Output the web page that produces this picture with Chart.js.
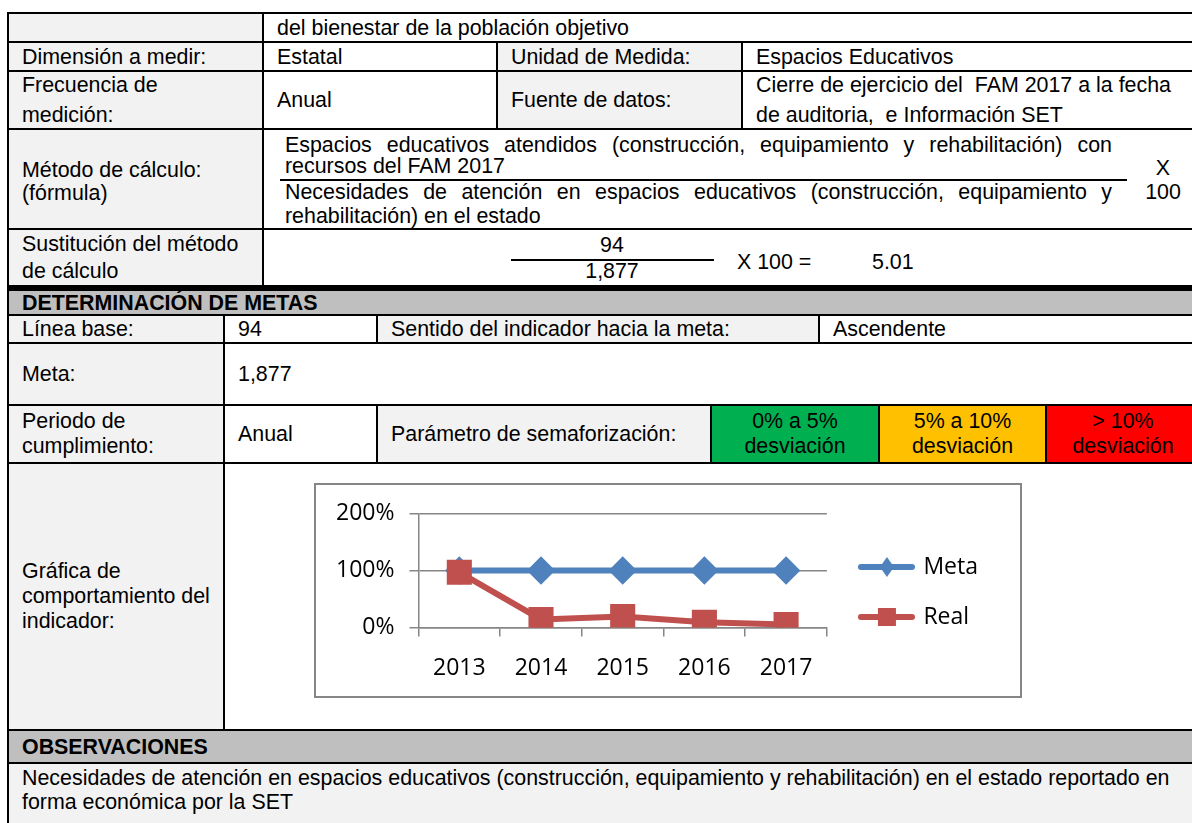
<!DOCTYPE html>
<html>
<head>
<meta charset="utf-8">
<script src="https://cdn.jsdelivr.net/npm/chart.js@4.4.1/dist/chart.umd.min.js"></script>
<style>
  html, body { margin: 0; padding: 0; background: #fff; }
  body { width: 1192px; height: 823px; overflow: hidden; position: relative;
         font-family: "Liberation Sans", Arial, sans-serif; font-size: 21.4px; color: #000; }
  .c { position: absolute; box-sizing: border-box; border: 2px solid #000;
       display: flex; align-items: center; padding-left: 13px; line-height: 30px; }
  .t { position: absolute; white-space: nowrap; line-height: 20px; }
  .ctr { justify-content: center; text-align: center; padding-left: 0; }
  .b { font-weight: bold; }
  .top { align-items: flex-start; padding-top: 2px; }
  .low { padding-top: 5px; }
  #box { position: absolute; left: 314px; top: 483px; width: 708px; height: 215px;
         box-sizing: border-box; border: 2px solid #868686; background: #fff; }
  #chart { position: absolute; left: 316px; top: 485px; }
</style>
</head>
<body>
<div id="table"></div>
<div id="box"></div>
<canvas id="chart" width="703" height="211"></canvas>
<script>
// chart data
const years = ['2013', '2014', '2015', '2016', '2017'];
const metaValues = [100, 100, 100, 100, 100];
const realValues = [97, 14, 19, 9, 5];
const seriesNames = ['Meta', 'Real'];
const seriesColors = ['#4f81bd', '#c0504d'];

const LABEL = '#f2f2f2', HEAD = '#bfbfbf', WHITE = '#fff';

// table cells: x1, y1, x2, y2, background, content, extra class, line height
const cells = [
  [8, 13, 263, 42, LABEL, ''],
  [263, 13, 1200, 42, WHITE, 'del bienestar de la población objetivo'],
  [8, 42, 263, 71, LABEL, 'Dimensión a medir:'],
  [263, 42, 497, 71, WHITE, 'Estatal'],
  [497, 42, 742, 71, LABEL, 'Unidad de Medida:'],
  [742, 42, 1200, 71, WHITE, 'Espacios Educativos'],
  [8, 71, 263, 129, LABEL, 'Frecuencia de<br>medición:'],
  [263, 71, 497, 129, WHITE, 'Anual'],
  [497, 71, 742, 129, LABEL, 'Fuente de datos:'],
  [742, 71, 1200, 129, WHITE, 'Cierre de ejercicio del&nbsp; FAM 2017 a la fecha<br>de auditoria,&nbsp; e Información SET'],
  [8, 129, 263, 229, LABEL, 'Método de cálculo:<br>(fórmula)', 'low', 23],
  [263, 129, 1200, 229, WHITE, ''],
  [8, 229, 263, 287, LABEL, 'Sustitución del método<br>de cálculo', '', 27],
  [263, 229, 1200, 287, WHITE, ''],
  [8, 290, 1200, 315, HEAD, 'DETERMINACIÓN DE METAS', 'b'],
  [8, 315, 224, 343, LABEL, 'Línea base:'],
  [224, 315, 377, 343, WHITE, '94'],
  [377, 315, 819, 343, LABEL, 'Sentido del indicador hacia la meta:'],
  [819, 315, 1200, 343, WHITE, 'Ascendente'],
  [8, 343, 224, 405, LABEL, 'Meta:'],
  [224, 343, 1200, 405, WHITE, '1,877'],
  [8, 405, 224, 463, LABEL, 'Periodo de<br>cumplimiento:', '', 25],
  [224, 405, 377, 463, WHITE, 'Anual'],
  [377, 405, 711, 463, LABEL, 'Parámetro de semaforización:'],
  [711, 405, 879, 463, '#00b050', '0% a 5%<br>desviación', 'ctr', 25],
  [879, 405, 1046, 463, '#ffc000', '5% a 10%<br>desviación', 'ctr', 25],
  [1046, 405, 1200, 463, '#ff0000', '&gt; 10%<br>desviación', 'ctr', 25],
  [8, 463, 224, 730, LABEL, 'Gráfica de<br>comportamiento del<br>indicador:', '', 25],
  [224, 463, 1200, 730, WHITE, ''],
  [8, 730, 1200, 763, HEAD, 'OBSERVACIONES', 'b'],
  [8, 763, 1200, 840, LABEL, 'Necesidades de atención en espacios educativos (construcción, equipamiento y rehabilitación) en el estado reportado en<br>forma económica por la SET', 'top', 24]
];

let html = '';
cells.forEach(([x1, y1, x2, y2, bg, txt, cls, lh]) => {
  html += `<div class="c ${cls || ''}" style="left:${x1 - 1}px;top:${y1 - 1}px;width:${x2 - x1 + 2}px;height:${y2 - y1 + 2}px;background:${bg};line-height:${lh || 30}px"><div>${txt}</div></div>`;
});
// thick separator
html += '<div style="position:absolute;left:7px;top:285px;width:1200px;height:5px;background:#000"></div>';
// formula
html += '<div class="t" style="left:285px;top:135px;width:827px;text-align:justify;text-align-last:justify">Espacios educativos atendidos (construcción, equipamiento y rehabilitación) con</div>';
html += '<div class="t" style="left:285px;top:156px">recursos del FAM 2017</div>';
html += '<div style="position:absolute;left:280px;top:179px;width:847px;height:2px;background:#000"></div>';
html += '<div class="t" style="left:285px;top:182px;width:827px;text-align:justify;text-align-last:justify">Necesidades de atención en espacios educativos (construcción, equipamiento y</div>';
html += '<div class="t" style="left:285px;top:206px">rehabilitación) en el estado</div>';
html += '<div class="t" style="left:1140px;top:158px;width:46px;text-align:center">X</div>';
html += '<div class="t" style="left:1140px;top:182px;width:46px;text-align:center">100</div>';
// substitution
html += '<div class="t" style="left:562px;top:235px;width:100px;text-align:center">94</div>';
html += '<div style="position:absolute;left:511px;top:259px;width:203px;height:2px;background:#000"></div>';
html += '<div class="t" style="left:562px;top:261px;width:100px;text-align:center">1,877</div>';
html += '<div class="t" style="left:737px;top:252px">X 100 =</div>';
html += '<div class="t" style="left:872px;top:252px">5.01</div>';
document.getElementById('table').innerHTML = html;

// legend icons: line with marker
function legendIcon(i) {
  const cv = document.createElement('canvas');
  cv.width = 64; cv.height = 24;
  const g = cv.getContext('2d');
  g.strokeStyle = seriesColors[i];
  g.fillStyle = seriesColors[i];
  g.lineWidth = 6; g.lineCap = 'round';
  g.beginPath(); g.moveTo(10, 12); g.lineTo(61, 12); g.stroke();
  g.beginPath();
  if (i === 0) {
    g.moveTo(36, 2); g.lineTo(43, 12); g.lineTo(36, 22); g.lineTo(29, 12); g.closePath();
  } else {
    g.rect(27, 3, 18, 18);
  }
  g.fill();
  return cv;
}
const icons = [legendIcon(0), legendIcon(1)];

const axisFont = { family: '"Open Sans", sans-serif', size: 23 };
const gridGray = '#868686';

new Chart(document.getElementById('chart'), {
  type: 'line',
  data: {
    labels: years,
    datasets: [
      { label: seriesNames[0], data: metaValues, borderColor: seriesColors[0], backgroundColor: seriesColors[0],
        borderWidth: 6, pointStyle: 'rectRot', pointRadius: 10, pointHoverRadius: 10, order: 2 },
      { label: seriesNames[1], data: realValues, borderColor: seriesColors[1], backgroundColor: seriesColors[1],
        borderWidth: 6, pointStyle: 'rect', pointRadius: 13.5, pointHoverRadius: 13.5, order: 1 }
    ]
  },
  options: {
    responsive: false,
    animation: false,
    layout: { padding: { left: 5, top: 27, right: 31, bottom: -4 } },
    plugins: {
      tooltip: { enabled: false },
      legend: {
        position: 'right',
        align: 'start',
        // empty title used as a spacer above the legend items
        title: { display: true, text: ' ', padding: 0, font: { size: 13.75 } },
        labels: {
          usePointStyle: true,
          pointStyleWidth: 58,
          padding: 27,
          color: '#000',
          font: axisFont,
          generateLabels: chart => chart.data.datasets.map((ds, i) => ({
            text: ds.label, pointStyle: icons[i], datasetIndex: i, hidden: false,
            fillStyle: ds.borderColor, strokeStyle: ds.borderColor, lineWidth: 0, fontColor: '#000'
          }))
        }
      }
    },
    scales: {
      x: {
        offset: true,
        grid: { drawOnChartArea: false, offset: true, tickLength: 9, color: gridGray, lineWidth: 1.5 },
        border: { color: gridGray, width: 1.5 },
        ticks: { padding: 18, color: '#000', font: axisFont }
      },
      y: {
        min: 0, max: 200,
        grid: { color: gridGray, lineWidth: 1.5, tickLength: 9 },
        border: { color: gridGray, width: 1.5 },
        ticks: { stepSize: 100, padding: 15, color: '#000', font: axisFont, callback: v => v + '%' }
      }
    }
  }
});
</script>
</body>
</html>
